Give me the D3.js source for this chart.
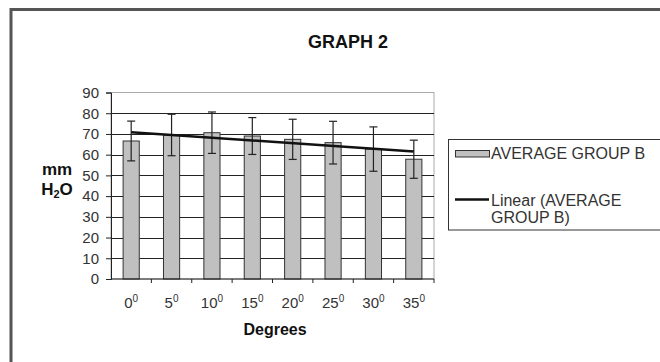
<!DOCTYPE html>
<html>
<head>
<meta charset="utf-8">
<script src="https://cdn.jsdelivr.net/npm/d3@7"></script>
<style>
  body { margin: 0; background: #fff; }
  svg { display: block; font-family: Arial, "Liberation Sans", sans-serif; }
</style>
</head>
<body>
<svg id="chart" width="660" height="362"></svg>
<script>
// values
const categories = ['0', '5', '10', '15', '20', '25', '30', '35'];
const averages = [66.6, 69.5, 70.6, 69.0, 67.4, 65.8, 62.7, 57.8];
const errors = [9.6, 10.0, 10.0, 8.9, 9.7, 10.3, 10.7, 9.2];
const yTicks = [0, 10, 20, 30, 40, 50, 60, 70, 80, 90];

const width = 660, height = 362;
const plot = { left: 111, right: 434, top: 92.5, bottom: 279 };

const svg = d3.select('#chart');

// outer frame (cut off on the right and bottom)
svg.append('path')
  .attr('d', `M11,${height + 5} L11,9.5 L${width + 5},9.5`)
  .attr('fill', 'none')
  .attr('stroke', '#555')
  .attr('stroke-width', 3);

const x = d3.scaleBand()
  .domain(categories)
  .range([plot.left, plot.right])
  .paddingInner(0)
  .paddingOuter(0);

const y = d3.scaleLinear()
  .domain([0, 90])
  .range([plot.bottom, plot.top]);

const barWidth = x.bandwidth() / 2.5;

// plot area border
svg.append('rect')
  .attr('x', plot.left)
  .attr('y', plot.top)
  .attr('width', plot.right - plot.left)
  .attr('height', plot.bottom - plot.top)
  .attr('fill', '#fff')
  .attr('stroke', '#aaa')
  .attr('stroke-width', 1);

// gridlines
svg.append('g')
  .selectAll('line')
  .data(yTicks.filter(d => d > 0 && d < 90))
  .enter()
  .append('line')
  .attr('x1', plot.left)
  .attr('x2', plot.right)
  .attr('y1', d => Math.round(y(d)) + 0.5)
  .attr('y2', d => Math.round(y(d)) + 0.5)
  .attr('stroke', '#222')
  .attr('stroke-width', 1);

// bars
svg.append('g')
  .selectAll('rect')
  .data(averages)
  .enter()
  .append('rect')
  .attr('x', (d, i) => x(categories[i]) + x.bandwidth() / 2 - barWidth / 2)
  .attr('y', d => y(d))
  .attr('width', barWidth)
  .attr('height', d => y(0) - y(d))
  .attr('fill', '#c0c0c0')
  .attr('stroke', '#333')
  .attr('stroke-width', 1);

// error bars
const eb = svg.append('g')
  .attr('stroke', '#222')
  .attr('stroke-width', 1.2);

averages.forEach((d, i) => {
  const cx = x(categories[i]) + x.bandwidth() / 2;
  const top = y(d + errors[i]);
  const bot = y(d - errors[i]);
  eb.append('line').attr('x1', cx).attr('x2', cx).attr('y1', top).attr('y2', bot);
  eb.append('line').attr('x1', cx - 4).attr('x2', cx + 4).attr('y1', top).attr('y2', top);
  eb.append('line').attr('x1', cx - 4).attr('x2', cx + 4).attr('y1', bot).attr('y2', bot);
});

// linear trendline (least squares over category index)
const n = averages.length;
const meanI = (n - 1) / 2;
const meanY = d3.mean(averages);
const slope = d3.sum(averages, (d, i) => (i - meanI) * (d - meanY)) /
  d3.sum(averages, (d, i) => (i - meanI) * (i - meanI));
const trend = i => meanY + slope * (i - meanI);

svg.append('line')
  .attr('x1', x(categories[0]) + x.bandwidth() / 2)
  .attr('y1', y(trend(0)))
  .attr('x2', x(categories[n - 1]) + x.bandwidth() / 2)
  .attr('y2', y(trend(n - 1)))
  .attr('stroke', '#111')
  .attr('stroke-width', 2.5);

// y axis
const yAxis = svg.append('g')
  .attr('transform', `translate(${plot.left},0)`)
  .call(d3.axisLeft(y).tickValues(yTicks).tickSize(5).tickPadding(7));
yAxis.select('.domain').attr('stroke', '#222');
yAxis.selectAll('.tick line').attr('stroke', '#222');
yAxis.selectAll('.tick text')
  .attr('font-size', 15)
  .attr('font-family', 'Arial, "Liberation Sans", sans-serif')
  .attr('fill', '#333');

// x axis: ticks between categories
const xAxis = svg.append('g')
  .attr('transform', `translate(0,${plot.bottom})`);
xAxis.append('line')
  .attr('x1', plot.left)
  .attr('x2', plot.right)
  .attr('stroke', '#222');
xAxis.selectAll('line.tk')
  .data(categories)
  .enter()
  .append('line')
  .attr('class', 'tk')
  .attr('x1', d => x(d) + x.bandwidth())
  .attr('x2', d => x(d) + x.bandwidth())
  .attr('y1', 0)
  .attr('y2', 4)
  .attr('stroke', '#222');

const xl = xAxis.selectAll('text')
  .data(categories)
  .enter()
  .append('text')
  .attr('x', d => x(d) + x.bandwidth() / 2)
  .attr('y', 28.5)
  .attr('text-anchor', 'middle')
  .attr('font-size', 15)
  .attr('fill', '#333');
xl.append('tspan').text(d => d);
xl.append('tspan')
  .attr('dy', -6)
  .attr('font-size', 10)
  .text('0');

// title
svg.append('text')
  .attr('x', 348)
  .attr('y', 48)
  .attr('text-anchor', 'middle')
  .attr('font-size', 18)
  .attr('font-weight', 'bold')
  .attr('fill', '#111')
  .text('GRAPH 2');

// axis titles
svg.append('text')
  .attr('x', 275)
  .attr('y', 335)
  .attr('text-anchor', 'middle')
  .attr('font-size', 16)
  .attr('font-weight', 'bold')
  .attr('fill', '#111')
  .text('Degrees');

svg.append('text')
  .attr('x', 57)
  .attr('y', 175)
  .attr('text-anchor', 'middle')
  .attr('font-size', 17)
  .attr('font-weight', 'bold')
  .attr('fill', '#111')
  .text('mm');

const h2o = svg.append('text')
  .attr('x', 57)
  .attr('y', 195)
  .attr('text-anchor', 'middle')
  .attr('font-size', 17)
  .attr('font-weight', 'bold')
  .attr('fill', '#111');
h2o.append('tspan').text('H');
h2o.append('tspan').attr('font-size', 11).attr('dy', 3).text('2');
h2o.append('tspan').attr('dy', -3).text('O');

// legend
const legend = svg.append('g');
legend.append('rect')
  .attr('x', 448.5)
  .attr('y', 139.5)
  .attr('width', 230)
  .attr('height', 90.5)
  .attr('fill', '#fff')
  .attr('stroke', '#333')
  .attr('stroke-width', 1);
legend.append('rect')
  .attr('x', 455.5)
  .attr('y', 150.5)
  .attr('width', 34)
  .attr('height', 6.5)
  .attr('fill', '#c0c0c0')
  .attr('stroke', '#333');
legend.append('text')
  .attr('x', 491)
  .attr('y', 158.5)
  .attr('font-size', 16)
  .attr('fill', '#333')
  .text('AVERAGE GROUP B');
legend.append('line')
  .attr('x1', 455)
  .attr('x2', 489)
  .attr('y1', 199.5)
  .attr('y2', 199.5)
  .attr('stroke', '#111')
  .attr('stroke-width', 2.5);
legend.append('text')
  .attr('x', 491)
  .attr('y', 206)
  .attr('font-size', 16)
  .attr('fill', '#333')
  .text('Linear (AVERAGE');
legend.append('text')
  .attr('x', 491)
  .attr('y', 222.5)
  .attr('font-size', 16)
  .attr('fill', '#333')
  .text('GROUP B)');
</script>
</body>
</html>
